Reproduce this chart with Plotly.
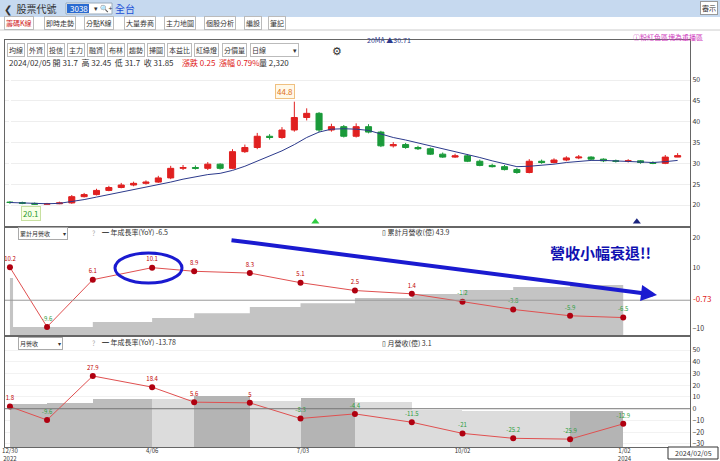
import plotly.graph_objects as go
from plotly.subplots import make_subplots

# 週K資料 (週序號)
wk = list(range(55))
opn = [20.7,20.6,20.4,20.2,20.3,20.5,22.0,22.5,23.5,24.2,24.8,25.2,25.5,26.5,28.8,29.0,28.8,29.8,28.8,32.8,33.8,36.5,36.2,38.0,41.0,42.0,38.0,38.8,36.5,38.8,37.5,34.2,34.5,33.8,33.5,32.2,31.5,31.8,30.5,29.5,29.2,28.5,27.8,30.5,30.2,30.8,31.3,31.5,31.0,30.6,30.5,30.6,30.2,30.0,31.5]
high = [20.9,20.8,20.6,20.5,20.8,22.4,22.9,23.9,24.6,25.3,25.6,25.9,27.0,29.4,29.6,29.5,30.3,30.0,33.4,34.5,37.3,37.0,38.7,44.8,43.2,42.3,39.5,39.2,39.6,39.4,37.8,35.1,34.9,34.2,33.8,32.6,32.3,32.2,30.9,29.9,29.6,28.9,31.0,30.9,31.2,31.7,32.0,31.7,31.2,30.9,31.0,30.8,30.5,32.0,32.45]
low = [20.3,20.2,20.1,20.2,20.2,20.3,21.8,22.3,23.3,24.0,24.5,24.9,25.3,26.2,28.4,28.5,28.4,28.5,28.6,32.5,33.4,35.7,35.9,37.6,40.3,37.5,37.6,36.2,36.2,37.2,33.9,33.8,33.5,33.2,32.0,31.3,31.3,30.3,29.3,29.0,28.3,27.5,27.6,29.9,30.0,30.5,31.0,30.7,30.3,30.2,30.2,29.9,29.8,29.8,31.7]
close = [20.6,20.4,20.2,20.3,20.5,22.0,22.5,23.5,24.2,24.8,25.2,25.5,26.5,28.8,29.0,28.8,29.8,28.8,32.8,33.8,36.5,36.2,38.0,41.0,42.0,38.0,38.8,36.5,38.8,37.5,34.2,34.5,33.8,33.5,32.2,31.5,31.8,30.5,29.5,29.2,28.5,27.8,30.5,30.2,30.8,31.3,31.5,31.0,30.6,30.5,30.6,30.2,30.0,31.5,31.85]
ma20 = [20.6,20.5,20.3,20.3,20.4,20.8,21.3,21.9,22.5,23.1,23.7,24.2,24.8,25.5,26.2,26.8,27.3,27.6,28.3,29.3,30.5,31.8,33.0,34.5,36.2,37.5,38.2,38.3,38.2,37.9,37.0,36.2,35.6,34.9,34.2,33.5,32.9,32.2,31.4,30.6,29.9,29.2,29.3,29.5,29.8,30.2,30.5,30.7,30.7,30.6,30.5,30.3,30.2,30.4,30.7]

# 月營收資料 (公布週)
rev_wk = [0, 3.0, 6.7, 11.5, 14.9, 19.4, 23.5, 27.9, 32.5, 36.6, 40.7, 45.3, 49.6]
cum_yoy = [10.2, -9.6, 6.1, 10.1, 8.9, 8.3, 5.1, 2.5, 1.4, -1.2, -3.8, -5.9, -6.5]
cum_rev = [50, 7, 11.4, 15, 19, 24.6, 28, 32.5, 36, 39.6, 42.2, 43.9, 43.9]
mon_yoy = [1.8, -9.6, 27.9, 18.4, 5.6, 5, -8.3, -4.4, -11.5, -21, -25.2, -25.9, -12.9]
mon_rev = [3.7, 3.8, 4.1, 4.1, 4.4, 4.0, 4.2, 3.9, 3.2, 3.1, 3.1, 3.1]
bar_col = ["#bdbdbd"]*3 + ["#dcdcdc", "#b4b4b4", "#dcdcdc", "#b4b4b4", "#dcdcdc", "#dcdcdc", "#dcdcdc", "#dcdcdc", "#b4b4b4"]

tick_pos = [0, 11.5, 23.7, 36.6, 49.7]
tick_txt = ["12/30<br>2022", "4/06", "7/03", "10/02", "1/02<br>2024"]

FONT = "Noto Sans CJK TC"
W, H = 720, 461


def px(x):
    return (x - 5) / 685


def py(y):
    return (447 - y) / 407


fig = make_subplots(rows=3, cols=1, shared_xaxes=True, vertical_spacing=0.005,
                    specs=[[{}], [{"secondary_y": True}], [{"secondary_y": True}]])

fig.add_trace(go.Candlestick(x=wk, open=opn, high=high, low=low, close=close,
                             increasing=dict(line=dict(color="#e02020", width=1), fillcolor="#e02020"),
                             decreasing=dict(line=dict(color="#1a9a3a", width=1), fillcolor="#1a9a3a"),
                             whiskerwidth=0), row=1, col=1)
fig.add_trace(go.Scatter(x=wk, y=ma20, mode="lines", line=dict(color="#2c3a8c", width=1)), row=1, col=1)
fig.add_trace(go.Scatter(x=[24.7, 50.7], y=[16, 16], mode="markers",
                         marker=dict(symbol="triangle-up", size=7, color=["#2ecc40", "#1a237e"])), row=1, col=1)

# 累計營收
fig.add_trace(go.Scatter(x=[0, 0.25] + rev_wk[1:], y=[cum_rev[0]] + cum_rev[1:2] + cum_rev[1:],
                         mode="lines", line=dict(shape="hv", width=0), fill="tozeroy",
                         fillcolor="#c4c4c4"), row=2, col=1, secondary_y=False)
lbl_col = ["#c00000" if v > 0 else "#2e9e40" for v in cum_yoy]
fig.add_trace(go.Scatter(x=rev_wk, y=cum_yoy, mode="lines+markers+text",
                         text=[str(v) for v in cum_yoy], textposition="top center",
                         textfont=dict(size=6, color=lbl_col),
                         line=dict(color="#e05050", width=1), marker=dict(color="#b00010", size=6)),
              row=2, col=1, secondary_y=True)

# 月營收
widths = [rev_wk[i + 1] - rev_wk[i] for i in range(12)]
fig.add_trace(go.Bar(x=rev_wk[:12], y=mon_rev, width=widths, offset=0,
                     marker=dict(color=bar_col, line=dict(width=0))), row=3, col=1, secondary_y=False)
lbl_col = ["#c00000" if v > 0 else "#2e9e40" for v in mon_yoy]
fig.add_trace(go.Scatter(x=rev_wk, y=mon_yoy, mode="lines+markers+text",
                         text=[str(v) for v in mon_yoy], textposition="top center",
                         textfont=dict(size=6, color=lbl_col),
                         line=dict(color="#e05050", width=1), marker=dict(color="#b00010", size=6)),
              row=3, col=1, secondary_y=True)

p1 = [py(226), 1]
p2 = [py(335), py(228)]
p3 = [0, py(337)]
ax = dict(showline=True, linecolor="#666", linewidth=1, mirror=True, showgrid=False,
          tickfont=dict(size=7, color="#333"), ticks="", automargin=False)
fig.update_layout(
    width=W, height=H, margin=dict(l=5, r=30, t=40, b=14, autoexpand=False),
    paper_bgcolor="white", plot_bgcolor="white", showlegend=False,
    font=dict(family=FONT, size=8, color="#333"), bargap=0,
    xaxis=dict(ax, domain=[0, 1], range=[-0.4, 55], showticklabels=False, rangeslider=dict(visible=False)),
    xaxis2=dict(ax, domain=[0, 1], range=[-0.4, 55], showticklabels=False),
    xaxis3=dict(ax, domain=[0, 1], range=[-0.4, 55], tickvals=tick_pos, ticktext=tick_txt, ticklen=0,
                tickfont=dict(size=6, color="#333"), ticklabelstandoff=-2),
    yaxis=dict(ax, domain=p1, side="right", range=[14.96, 59.6], tickvals=[20, 25, 30, 35, 40, 45, 50],
               showgrid=True, gridcolor="#eeeeee"),
    yaxis2=dict(domain=p2, range=[0, 94], visible=False),
    yaxis3=dict(ax, side="right", range=[-12.3, 23.3], tickvals=[-10, 10, 20], overlaying="y2"),
    yaxis4=dict(domain=p3, range=[0, 9.47], visible=False),
    yaxis5=dict(ax, side="right", range=[-32.6, 61.1], tickvals=[-30, -20, -10, 0, 10, 20, 30, 40, 50],
                overlaying="y4", showgrid=True, gridcolor="#f2f2f2"),
)
fig.update_xaxes(showline=True, linecolor="#666", mirror=True)

shapes = [
    dict(type="line", xref="x2 domain", yref="y3", x0=0, x1=1, y0=-0.73, y1=-0.73, line=dict(color="#999", width=1)),
    dict(type="line", xref="x3 domain", yref="y5", x0=0, x1=1, y0=0, y1=0, line=dict(color="#777", width=1)),
    # header bar
    dict(type="rect", xref="paper", yref="paper", x0=px(0), x1=px(720), y0=py(17), y1=py(0),
         fillcolor="#c6d9ef", line=dict(width=0), layer="below"),
    dict(type="rect", xref="paper", yref="paper", x0=px(66), x1=px(112), y0=py(14), y1=py(3),
         fillcolor="white", line=dict(color="#9ab", width=1)),
    dict(type="rect", xref="paper", yref="paper", x0=px(67), x1=px(89), y0=py(13), y1=py(4),
         fillcolor="#2a6bd1", line=dict(width=0)),
    dict(type="line", xref="paper", yref="paper", x0=px(0), x1=px(720), y0=py(30), y1=py(30),
         line=dict(color="#ccc", width=1)),
    # circle
    dict(type="circle", xref="paper", yref="paper", x0=px(115), x1=px(182), y0=py(283), y1=py(253),
         line=dict(color="#1a1ad0", width=3)),
    # date box
    dict(type="rect", xref="paper", yref="paper", x0=px(668), x1=px(718), y0=py(459), y1=py(447),
         fillcolor="white", line=dict(color="#333", width=1)),
]
fig.update_layout(shapes=shapes)

ann = []


def txt(x, y, s, size=8, color="#333", anchor="left", **kw):
    ann.append(dict(xref="paper", yref="paper", x=px(x), y=py(y), text=s, showarrow=False,
                    xanchor=anchor, yanchor="middle", font=dict(size=size, color=color, family=FONT), **kw))


txt(2, 8, "❮  股票代號", 10)
txt(68, 8, "3038", 8, "white")
txt(92, 8, "▾ 🔍+", 7)
txt(113, 8, "全台", 10, "#1a4fd6")
txt(718, 8, "審示", 7, anchor="right", bgcolor="white", bordercolor="#999")
tabs = ["籌碼K線", "即時走勢", "分點K線", "大量券商", "主力地圖", "個股分析", "編設", "筆記"]
tx = 4
for i, t in enumerate(tabs):
    txt(tx, 23, t, 7, "#d02020" if i == 0 else "#333", bordercolor="#bbb", borderpad=1)
    tx += len(t) * 8 + 8
btns = ["均線", "外資", "投信", "主力", "融資", "布林", "趨勢", "掃圖", "本益比", "紅綠燈", "分價量"]
bx = 7
for b in btns:
    txt(bx, 50, b, 7, bordercolor="#bbb", borderpad=1)
    bx += len(b) * 7.5 + 5
txt(bx, 50, "日線                 ▾", 7, bordercolor="#bbb", borderpad=1)
txt(bx + 80, 50, "⚙", 11)
txt(7, 62, "2024/02/05 開 31.7  高 32.45  低 31.7  收 31.85", 8)
txt(180, 62, "漲跌 0.25  漲幅 0.79%", 8, "#e02020")
txt(257, 62, "量 2,320", 8)
txt(365, 40, "20MA ▲30.71", 7, "#2c3a8c")
txt(705, 37, "ⓘ粉紅色區塊為重播區", 7, "#d040c0", anchor="right")
txt(285, 91, "44.8", 8, "#e07020", anchor="center", bordercolor="#f0c080", bgcolor="#fff8e8")
txt(31, 213, "20.1", 8, "#2a9a2a", anchor="center", bordercolor="#c8e0a0", bgcolor="#f8ffe8")
# panel 2 legends
txt(18, 233, "累計月營收          ▾", 6, bordercolor="#aaa")
txt(90, 233, "?", 7, "#aaa")
txt(100, 232, "━ 年成長率(YoY) -6.5", 7)
txt(380, 232, "▯ 累計月營收(億) 43.9", 7)
txt(691, 298, "-0.73", 8, "#e02020")
txt(600, 252, "<b>營收小幅衰退!!</b>", 15, "#1010b0", anchor="center")
# panel 3 legends
txt(18, 343, "月營收               ▾", 6, bordercolor="#aaa")
txt(90, 343, "?", 7, "#aaa")
txt(100, 342, "━ 年成長率(YoY) -13.78", 7)
txt(380, 343, "▯ 月營收(億) 3.1", 7)
txt(693, 453, "2024/02/05", 7, anchor="center")
ann.append(dict(xref="paper", yref="paper", x=px(657), y=py(295), ax=-427, ay=-55,
                text="", showarrow=True, arrowhead=2, arrowsize=0.8,
                arrowwidth=4, arrowcolor="#1a1ad0"))
fig.update_layout(annotations=ann)

fig.write_html("out.html", config={"displayModeBar": False},
               post_script="document.body.style.margin='0';")
